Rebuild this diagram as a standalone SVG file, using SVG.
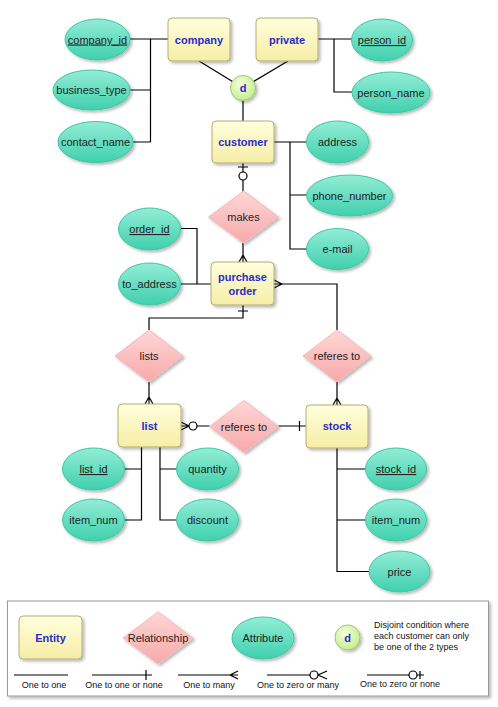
<svg xmlns="http://www.w3.org/2000/svg" width="498" height="707" viewBox="0 0 498 707">
<defs>
<linearGradient id="gEnt" x1="0" y1="0" x2="0" y2="1"><stop offset="0" stop-color="#FFFFDC"/><stop offset="1" stop-color="#F6EDA6"/></linearGradient>
<linearGradient id="gRel" x1="0" y1="0" x2="0" y2="1"><stop offset="0" stop-color="#FFD6D6"/><stop offset="1" stop-color="#F7A9A9"/></linearGradient>
<linearGradient id="gAtt" x1="0" y1="0" x2="0" y2="1"><stop offset="0" stop-color="#93EDD6"/><stop offset="1" stop-color="#3FD0AD"/></linearGradient>
<radialGradient id="gD" cx="0.4" cy="0.35" r="0.7"><stop offset="0" stop-color="#F4FFD8"/><stop offset="1" stop-color="#C4EC8C"/></radialGradient>
<filter id="sh" x="-20%" y="-20%" width="150%" height="150%"><feDropShadow dx="2" dy="2" stdDeviation="1.5" flood-color="#000" flood-opacity="0.28"/></filter>
</defs>
<style>
.ent{fill:url(#gEnt);stroke:#B5AC72;stroke-width:1;filter:url(#sh)}
.rel{fill:url(#gRel);stroke:#F4B8B8;stroke-width:1;stroke-linejoin:round;filter:url(#sh)}
.att{fill:url(#gAtt);stroke:#3CC6A6;stroke-width:1;filter:url(#sh)}
.dc{fill:url(#gD);stroke:#9CC66C;stroke-width:1;filter:url(#sh)}
.et{font-family:"Liberation Sans",Arial,sans-serif;font-size:11px;font-weight:bold;fill:#2B2BC8;text-anchor:middle}
.t{font-family:"Liberation Sans",Arial,sans-serif;font-size:11px;fill:#222;text-anchor:middle}
.u{text-decoration:underline}
.lt{font-family:"Liberation Sans",Arial,sans-serif;font-size:9px;fill:#111;text-anchor:middle}
.ln{fill:none;stroke:#000;stroke-width:1.2}
.ci{fill:#fff;stroke:#000;stroke-width:1.2}
</style>

<g id="connectors">
<path class="ln" d="M130,39 H168 M150.5,39 V142 M130,90 H150.5 M133,142 H150.5"/>
<path class="ln" d="M318,39 H352 M334,39 V92 H352"/>
<path class="ln" d="M199,61 L232.5,81.5 M288,61 L253.5,81.5 M243,100.5 V121"/>
<path class="ln" d="M274,142 H307 M290,142 V249 H307 M290,195 H307"/>
<path class="ln" d="M243,163 V172 M243,180 V192 M238,167 H248"/>
<circle class="ci" cx="243" cy="176" r="4"/>
<path class="ln" d="M243,243 V262 M239,262 L243,255 L247,262"/>
<path class="ln" d="M180.5,228.5 H197 V284 M180.5,284 H211"/>
<path class="ln" d="M274,284 H337 V330 M274,280 L282,284 L274,288"/>
<path class="ln" d="M243,305 V318 H149 V330 M238,311 H248"/>
<path class="ln" d="M149,382 V404 M145,404 L149,397 L153,404"/>
<path class="ln" d="M337,382 V405 M333,405 L337,398 L341,405"/>
<path class="ln" d="M181,426 H189 M181,422 L189,426 L181,430 M197,426 H209.5"/>
<circle class="ci" cx="193" cy="426" r="4"/>
<path class="ln" d="M278.5,426 H306 M299.5,421 V431"/>
<path class="ln" d="M124.5,469 H141.5 M141.5,447 V520 H124.5 M160,447 V520 H176.5 M160,469 H176.5"/>
<path class="ln" d="M337,448 V571.5 H369 M337,469 H365.5 M337,520 H365.5"/>
</g>

<g id="company"><rect class="ent" x="168" y="18" width="62" height="43" rx="4"/><text class="et" x="199" y="44">company</text></g>
<g id="private"><rect class="ent" x="256" y="18" width="62" height="43" rx="4"/><text class="et" x="287" y="44">private</text></g>
<g id="customer"><rect class="ent" x="212" y="121" width="62" height="42" rx="4"/><text class="et" x="243" y="146">customer</text></g>
<g id="purchase_order"><rect class="ent" x="211" y="262" width="63" height="43" rx="4"/><text class="et" x="242.5" y="281">purchase</text><text class="et" x="242.5" y="295">order</text></g>
<g id="list"><rect class="ent" x="118" y="404" width="63" height="43" rx="4"/><text class="et" x="149.5" y="430">list</text></g>
<g id="stock"><rect class="ent" x="306" y="405" width="62" height="43" rx="4"/><text class="et" x="337" y="430">stock</text></g>

<g id="d"><circle class="dc" cx="243" cy="88" r="12.5"/><text class="et" x="243" y="92">d</text></g>

<g id="makes"><polygon class="rel" points="243.5,191 278.5,217 243.5,243 208.5,217"/><text class="t" x="243.5" y="221">makes</text></g>
<g id="lists"><polygon class="rel" points="149,330 183,356 149,382 115,356"/><text class="t" x="149" y="360">lists</text></g>
<g id="referes_to_1"><polygon class="rel" points="337,330 371,356 337,382 303,356"/><text class="t" x="337" y="360">referes to</text></g>
<g id="referes_to_2"><polygon class="rel" points="244,400.5 278.5,426.5 244,452.5 209.5,426.5"/><text class="t" x="244" y="430.5">referes to</text></g>

<g id="company_id"><ellipse class="att" cx="97.5" cy="39.5" rx="32.5" ry="20.5"/><text class="t u" x="97.5" y="43.5">company_id</text></g>
<g id="business_type"><ellipse class="att" cx="91.5" cy="90" rx="38.5" ry="20"/><text class="t" x="91.5" y="94">business_type</text></g>
<g id="contact_name"><ellipse class="att" cx="95.5" cy="142" rx="37.5" ry="20.5"/><text class="t" x="95.5" y="146">contact_name</text></g>
<g id="person_id"><ellipse class="att" cx="382" cy="40" rx="30.5" ry="21"/><text class="t u" x="382" y="44">person_id</text></g>
<g id="person_name"><ellipse class="att" cx="391" cy="92.5" rx="39" ry="20.5"/><text class="t" x="391" y="96.5">person_name</text></g>
<g id="address"><ellipse class="att" cx="337.5" cy="142" rx="31" ry="21"/><text class="t" x="337.5" y="146">address</text></g>
<g id="phone_number"><ellipse class="att" cx="349.5" cy="195.5" rx="43" ry="20.5"/><text class="t" x="349.5" y="199.5">phone_number</text></g>
<g id="e-mail"><ellipse class="att" cx="337.5" cy="249" rx="31" ry="20.5"/><text class="t" x="337.5" y="253">e-mail</text></g>
<g id="order_id"><ellipse class="att" cx="149.5" cy="229" rx="31" ry="21"/><text class="t u" x="149.5" y="233">order_id</text></g>
<g id="to_address"><ellipse class="att" cx="149.5" cy="284" rx="31" ry="21"/><text class="t" x="149.5" y="288">to_address</text></g>
<g id="list_id"><ellipse class="att" cx="93.5" cy="469" rx="31" ry="21"/><text class="t u" x="93.5" y="473">list_id</text></g>
<g id="item_num_1"><ellipse class="att" cx="93.5" cy="520" rx="31" ry="21"/><text class="t" x="93.5" y="524">item_num</text></g>
<g id="quantity"><ellipse class="att" cx="207.5" cy="469" rx="31" ry="21"/><text class="t" x="207.5" y="473">quantity</text></g>
<g id="discount"><ellipse class="att" cx="207.5" cy="520" rx="31" ry="21"/><text class="t" x="207.5" y="524">discount</text></g>
<g id="stock_id"><ellipse class="att" cx="396" cy="469" rx="30.5" ry="21"/><text class="t u" x="396" y="473">stock_id</text></g>
<g id="item_num_2"><ellipse class="att" cx="396" cy="520" rx="30.5" ry="21"/><text class="t" x="396" y="524">item_num</text></g>
<g id="price"><ellipse class="att" cx="399.5" cy="571.5" rx="30.5" ry="20.5"/><text class="t" x="399.5" y="575.5">price</text></g>

<g id="legend">
<rect x="7.5" y="601" width="481" height="95" fill="#fff" stroke="#9A9A9A" stroke-width="1" filter="url(#sh)"/>
<rect class="ent" x="19" y="616" width="63" height="43" rx="4"/><text class="et" x="50.5" y="642">Entity</text>
<polygon class="rel" points="158,612 193,638 158,664 123,638"/><text class="t" x="158" y="642">Relationship</text>
<ellipse class="att" cx="263" cy="638" rx="31" ry="21"/><text class="t" x="263" y="642">Attribute</text>
<circle class="dc" cx="347.5" cy="637.5" r="12.5"/><text class="et" x="347.5" y="641.5">d</text>
<text class="lt" x="374" y="628" text-anchor="start" style="text-anchor:start">Disjoint condition where</text>
<text class="lt" x="374" y="639" style="text-anchor:start">each customer can only</text>
<text class="lt" x="374" y="650" style="text-anchor:start">be one of the 2 types</text>
<path class="ln" d="M14,675 H68"/>
<path class="ln" d="M92,675 H152 M146,670 V680"/>
<path class="ln" d="M178,675 H238 M238,671 L230,675 L238,679"/>
<path class="ln" d="M267,675 H310 M327,671 L318,675 L327,679"/>
<circle class="ci" cx="314" cy="675" r="4"/>
<path class="ln" d="M367,675 H409 M417,675 H424 M420,671 V679"/>
<circle class="ci" cx="413" cy="675" r="4"/>
<text class="lt" x="44" y="688">One to one</text>
<text class="lt" x="124" y="688">One to one or none</text>
<text class="lt" x="209" y="688">One to many</text>
<text class="lt" x="298" y="688">One to zero or many</text>
<text class="lt" x="400" y="687">One to zero or none</text>
</g>
</svg>
